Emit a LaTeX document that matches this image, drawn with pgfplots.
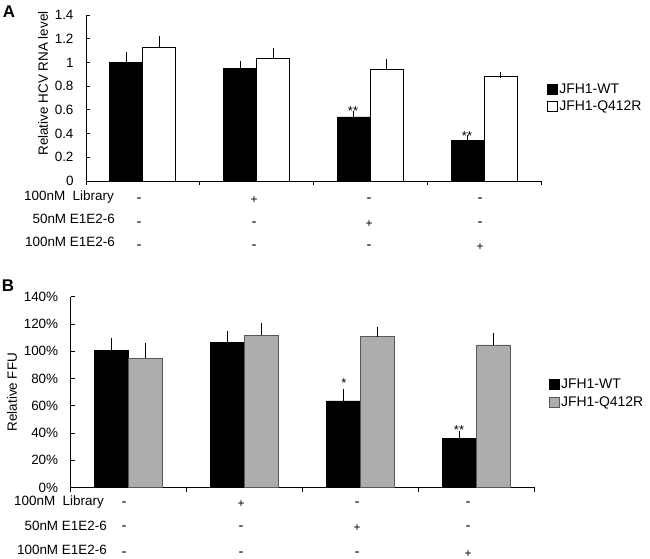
\documentclass[border=0pt]{standalone}
\usepackage{pgfplots}
\pgfplotsset{compat=1.18}
\usepackage{fontspec}
\setmainfont{Liberation Sans}
\begin{document}
\begin{tikzpicture}
\useasboundingbox (0,0) rectangle (650bp,-559bp);
\pgfplotsset{
  myaxis/.style={
    scale only axis, xmin=0, xmax=4, xtick={0,1,2,3,4}, xticklabels={},
    axis x line*=bottom, axis y line*=left,
    axis line style={line width=0.8bp, black},
    major tick length=4bp, tick style={line width=0.8bp, black}, tick align=inside,
    ybar=0pt, clip=false,
    /pgf/number format/assume math mode=true,
    tick label style={font=\fontsize{13.5}{15}\selectfont},
    yticklabel style={xshift=-9bp},
    label style={font=\fontsize{13.5}{15}\selectfont},
    legend style={draw=none, fill=none, font=\fontsize{14}{16}\selectfont, anchor=west, row sep=3bp, inner sep=0pt, nodes={inner sep=1.5bp}},
    legend cell align=left,
  },
  myerr/.style={error bars/.cd, y dir=plus, y explicit,
    error bar style={line width=0.8bp, black, solid},
    error mark options={line width=0.8bp, black, mark size=3.2bp}},
}
% Panel A
\begin{axis}[myaxis, at={(86bp,-181bp)}, anchor=south west, width=455bp, height=166bp,
  ymin=0, ymax=1.4, ytick={0,0.2,0.4,0.6,0.8,1,1.2,1.4},
  bar width=33bp,
  ylabel={Relative HCV RNA level},
  ylabel style={at={(axis description cs:-0.0945,0.587)}, anchor=center},
  legend style={at={(axis description cs:1.013,0.5)}},
  legend image code/.code={\draw[#1, line width=0.8bp] (0bp,-5bp) rectangle (10bp,5bp);},
]
\addplot[fill=black, draw=black, line width=0.8bp, myerr] coordinates {
  (0.5,1.0) +- (0,0.065)
  (1.5,0.95) +- (0,0.035)
  (2.5,0.54) +- (0,0.025)
  (3.5,0.345) +- (0,0.015)
};
\addplot[fill=white, draw=black, line width=0.8bp, myerr] coordinates {
  (0.5,1.13) +- (0,0.065)
  (1.5,1.035) +- (0,0.06)
  (2.5,0.94) +- (0,0.065)
  (3.5,0.88) +- (0,0.015)
};
\legend{JFH1-WT, JFH1-Q412R}
\end{axis}
% Panel B
\begin{axis}[myaxis, at={(70.7bp,-487.5bp)}, anchor=south west, width=464bp, height=190.8bp,
  ymin=0, ymax=140, ytick={0,20,40,60,80,100,120,140},
  yticklabel={\pgfmathprintnumber{\tick}\%},
  bar width=34bp,
  ylabel={Relative FFU},
  ylabel style={at={(axis description cs:-0.1265,0.5)}, anchor=center},
  legend style={at={(axis description cs:1.03,0.493)}},
  legend image code/.code={\draw[#1, line width=0.8bp] (0bp,-5bp) rectangle (10bp,5bp);},
]
\addplot[fill=black, draw=black, line width=0.8bp, myerr] coordinates {
  (0.5,100.3) +- (0,7.3)
  (1.5,106.2) +- (0,6.4)
  (2.5,63.5) +- (0,6.1)
  (3.5,35.8) +- (0,3.5)
};
\addplot[fill=black!32, draw=black!65, line width=0.8bp, myerr] coordinates {
  (0.5,94.8) +- (0,9.2)
  (1.5,111.7) +- (0,6.3)
  (2.5,110.6) +- (0,4.7)
  (3.5,104.6) +- (0,6.6)
};
\legend{JFH1-WT, JFH1-Q412R}
\end{axis}
% panel letters
\node[font=\fontsize{17}{19}\selectfont\bfseries] at (9bp,-12bp) {A};
\node[font=\fontsize{17}{19}\selectfont\bfseries] at (8bp,-286bp) {B};
% significance marks
\begin{scope}[every node/.style={font=\fontsize{13}{15}\selectfont, inner sep=0pt}]
\node at (353bp,-111bp) {**};
\node at (467bp,-136bp) {**};
\node at (344bp,-383bp) {*};
\node at (459bp,-430bp) {**};
\end{scope}
% treatment rows
\begin{scope}[every node/.style={font=\fontsize{13.5}{15}\selectfont, inner sep=0pt, anchor=east}]
\node at (114bp,-197bp) {100nM\ \ Library};
\node at (115bp,-219bp) {50nM E1E2-6};
\node at (115bp,-242bp) {100nM E1E2-6};
\node at (104bp,-502bp) {100nM\ \ Library};
\node at (107bp,-526bp) {50nM E1E2-6};
\node at (107bp,-550bp) {100nM E1E2-6};
\end{scope}
\begin{scope}[every node/.style={inner sep=0pt}]
\tikzset{mi/.style={font=\fontsize{15}{17}\selectfont}, pl/.style={font=\fontsize{12}{14}\selectfont}}
\node[mi] at (139bp,-200bp) {-}; \node[pl] at (254bp,-200bp) {+}; \node[mi] at (369bp,-200bp) {-}; \node[mi] at (480bp,-200bp) {-};
\node[mi] at (139bp,-224bp) {-}; \node[mi] at (254bp,-224bp) {-}; \node[pl] at (369bp,-224bp) {+}; \node[mi] at (480bp,-224bp) {-};
\node[mi] at (139bp,-247bp) {-}; \node[mi] at (254bp,-247bp) {-}; \node[mi] at (369bp,-247bp) {-}; \node[pl] at (480bp,-247bp) {+};
\node[mi] at (124bp,-504bp) {-}; \node[pl] at (241bp,-504bp) {+}; \node[mi] at (357bp,-504bp) {-}; \node[mi] at (468bp,-504bp) {-};
\node[mi] at (124bp,-528bp) {-}; \node[mi] at (241bp,-528bp) {-}; \node[pl] at (357bp,-528bp) {+}; \node[mi] at (468bp,-528bp) {-};
\node[mi] at (124bp,-554bp) {-}; \node[mi] at (241bp,-554bp) {-}; \node[mi] at (357bp,-554bp) {-}; \node[pl] at (468bp,-554bp) {+};
\end{scope}
\end{tikzpicture}
\end{document}
